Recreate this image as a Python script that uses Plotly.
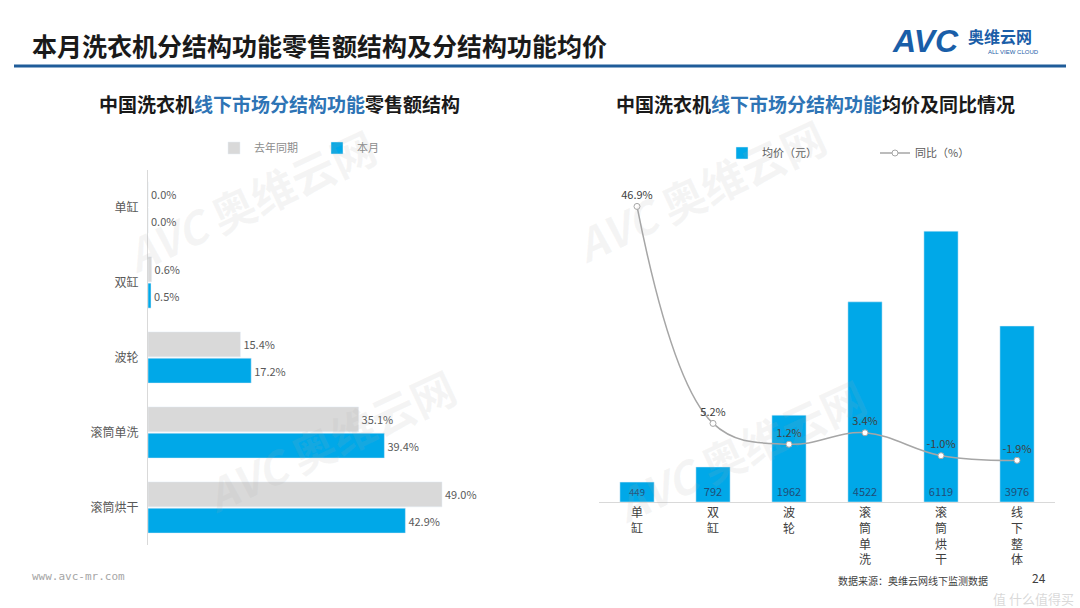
import plotly.graph_objects as go

# ---------------- data ----------------
left_categories = ["单缸", "双缸", "波轮", "滚筒单洗", "滚筒烘干"]
last_year_share = [0.0, 0.6, 15.4, 35.1, 49.0]
this_month_share = [0.0, 0.5, 17.2, 39.4, 42.9]

right_categories = ["单缸", "双缸", "波轮", "滚筒单洗", "滚筒烘干", "线下整体"]
avg_price = [449, 792, 1962, 4522, 6119, 3976]
yoy_change = [46.9, 5.2, 1.2, 3.4, -1.0, -1.9]

W, H = 1080, 608
BLUE = "#00A8E8"
GRAY = "#D9D9D9"
TXT = "#595959"
FONT = "Noto Sans CJK SC"


def px(x):
    return x / W


def py(y):
    return 1 - y / H


fig = go.Figure()

# ---------------- left chart ----------------
fig.add_trace(go.Bar(
    y=left_categories, x=last_year_share, orientation="h", name="去年同期",
    marker_color=GRAY, xaxis="x", yaxis="y",
    text=[f"{v:.1f}%" for v in last_year_share], textposition="outside",
    textfont=dict(size=11, color=TXT, family=FONT), cliponaxis=False,
    legend="legend",
))
fig.add_trace(go.Bar(
    y=left_categories, x=this_month_share, orientation="h", name="本月",
    marker_color=BLUE, xaxis="x", yaxis="y",
    text=[f"{v:.1f}%" for v in this_month_share], textposition="outside",
    textfont=dict(size=11, color=TXT, family=FONT), cliponaxis=False,
    legend="legend",
))

# ---------------- right chart ----------------
fig.add_trace(go.Bar(
    x=right_categories, y=avg_price, name="均价（元）", width=0.45,
    marker_color=BLUE, xaxis="x2", yaxis="y2",
    text=[str(v) for v in avg_price], textposition="inside",
    insidetextanchor="start", textangle=0,
    textfont=dict(size=11, color="#1F4E79", family=FONT),
    legend="legend2",
))
fig.add_trace(go.Scatter(
    x=right_categories, y=yoy_change, name="同比（%）", mode="lines+markers+text",
    line=dict(color="#A6A6A6", width=1.5, shape="spline", smoothing=1.1),
    marker=dict(symbol="circle", size=6, color="white",
                line=dict(color="#A6A6A6", width=1)),
    text=[f"{v:.1f}%" for v in yoy_change], textposition="top center",
    textfont=dict(size=11, color="#404040", family=FONT),
    xaxis="x2", yaxis="y3", cliponaxis=False, legend="legend2",
))

vertical_ticks = ["<br>".join(list(c)) for c in right_categories]

fig.update_layout(
    width=W, height=H,
    margin=dict(l=0, r=0, t=0, b=0),
    paper_bgcolor="white", plot_bgcolor="rgba(0,0,0,0)",
    font=dict(family=FONT, color=TXT),
    barmode="group", bargap=0.3, bargroupgap=0.05,
    xaxis=dict(domain=[px(148), px(508)], range=[0, 60], visible=False,
               anchor="y", fixedrange=True),
    yaxis=dict(domain=[py(545), py(170)], anchor="x", type="category",
               autorange="reversed", showline=True, linecolor="#D9D9D9",
               linewidth=1, ticks="", showgrid=False, zeroline=False,
               ticklabelstandoff=6,
               tickfont=dict(size=12, color=TXT, family=FONT)),
    xaxis2=dict(domain=[px(599), px(1055)], anchor="y2", type="category",
                range=[-0.5, 5.5], showline=True, linecolor="#D9D9D9",
                linewidth=1, ticks="", showgrid=False,
                tickvals=right_categories, ticktext=vertical_ticks,
                tickfont=dict(size=12, color="#404040", family=FONT)),
    yaxis2=dict(domain=[py(502), py(170)], anchor="x2", range=[0, 7500],
                visible=False),
    yaxis3=dict(overlaying="y2", anchor="x2", range=[-9.9, 53.9],
                visible=False),
    legend=dict(orientation="h", x=px(214), y=py(148), xanchor="left",
                yanchor="middle", font=dict(size=11, color="#8C8C8C", family=FONT),
                entrywidth=58, entrywidthmode="pixels", itemwidth=30,
                bgcolor="rgba(0,0,0,0)", traceorder="normal"),
    legend2=dict(orientation="h", x=px(722), y=py(153), xanchor="left",
                 yanchor="middle", font=dict(size=11, color="#595959", family=FONT),
                 entrywidth=108, entrywidthmode="pixels", itemwidth=30,
                 bgcolor="rgba(0,0,0,0)", traceorder="normal"),
    showlegend=True,
)

annotations = []

# faint watermarks
for cx, cy in [(250, 200), (700, 190), (330, 440), (740, 450)]:
    annotations.append(dict(
        x=px(cx), y=py(cy), xref="paper", yref="paper", showarrow=False,
        xanchor="center", yanchor="middle",
        text="<b><i>AVC</i></b> <b>奥维云网</b>", textangle=-25,
        font=dict(size=44, color="rgba(170,170,170,0.12)", family=FONT),
    ))

# title
annotations.append(dict(
    x=px(30), y=py(45), xref="paper", yref="paper", xanchor="left",
    yanchor="middle", showarrow=False,
    text="<b>本月洗衣机分结构功能零售额结构及分结构功能均价</b>",
    font=dict(size=25, color="#1A1A1A", family=FONT),
))
# logo
annotations.append(dict(
    x=px(890), y=py(41), xref="paper", yref="paper", xanchor="left",
    yanchor="middle", showarrow=False, text="<b><i>AVC</i></b>",
    font=dict(size=32, color="#1A5EA8", family="Liberation Sans"),
))
annotations.append(dict(
    x=px(966), y=py(36), xref="paper", yref="paper", xanchor="left",
    yanchor="middle", showarrow=False, text="<b>奥维云网</b>",
    font=dict(size=16, color="#1A5EA8", family=FONT),
))
annotations.append(dict(
    x=px(986), y=py(52), xref="paper", yref="paper", xanchor="left",
    yanchor="middle", showarrow=False, text="ALL VIEW CLOUD",
    font=dict(size=6, color="#1A5EA8", family="Liberation Sans"),
))

# subtitles
annotations.append(dict(
    x=px(279), y=py(103), xref="paper", yref="paper", xanchor="center",
    yanchor="middle", showarrow=False,
    text="<b>中国洗衣机<span style='color:#2E74B5'>线下市场分结构功能</span>零售额结构</b>",
    font=dict(size=19, color="#1A1A1A", family=FONT),
))
annotations.append(dict(
    x=px(815), y=py(103), xref="paper", yref="paper", xanchor="center",
    yanchor="middle", showarrow=False,
    text="<b>中国洗衣机<span style='color:#2E74B5'>线下市场分结构功能</span>均价及同比情况</b>",
    font=dict(size=19, color="#1A1A1A", family=FONT),
))

# footer
annotations.append(dict(
    x=px(30), y=py(576), xref="paper", yref="paper", xanchor="left",
    yanchor="middle", showarrow=False, text="www.avc-mr.com",
    font=dict(size=11, color="#A6A6A6", family="DejaVu Sans Mono"),
))
annotations.append(dict(
    x=px(836), y=py(580), xref="paper", yref="paper", xanchor="left",
    yanchor="middle", showarrow=False, text="数据来源：奥维云网线下监测数据",
    font=dict(size=10, color="#404040", family=FONT),
))
annotations.append(dict(
    x=px(1030), y=py(577), xref="paper", yref="paper", xanchor="left",
    yanchor="middle", showarrow=False, text="24",
    font=dict(size=12, color="#404040", family=FONT),
))
annotations.append(dict(
    x=px(1076), y=py(598), xref="paper", yref="paper", xanchor="right",
    yanchor="middle", showarrow=False, text="值 什么值得买",
    font=dict(size=13, color="rgba(200,200,200,0.7)", family=FONT),
))

fig.update_layout(annotations=annotations)

fig.add_shape(type="line", xref="paper", yref="paper",
              x0=px(14), x1=px(1066), y0=py(66), y1=py(66),
              line=dict(color="#1F5C99", width=3))

fig.write_html("out.html")
